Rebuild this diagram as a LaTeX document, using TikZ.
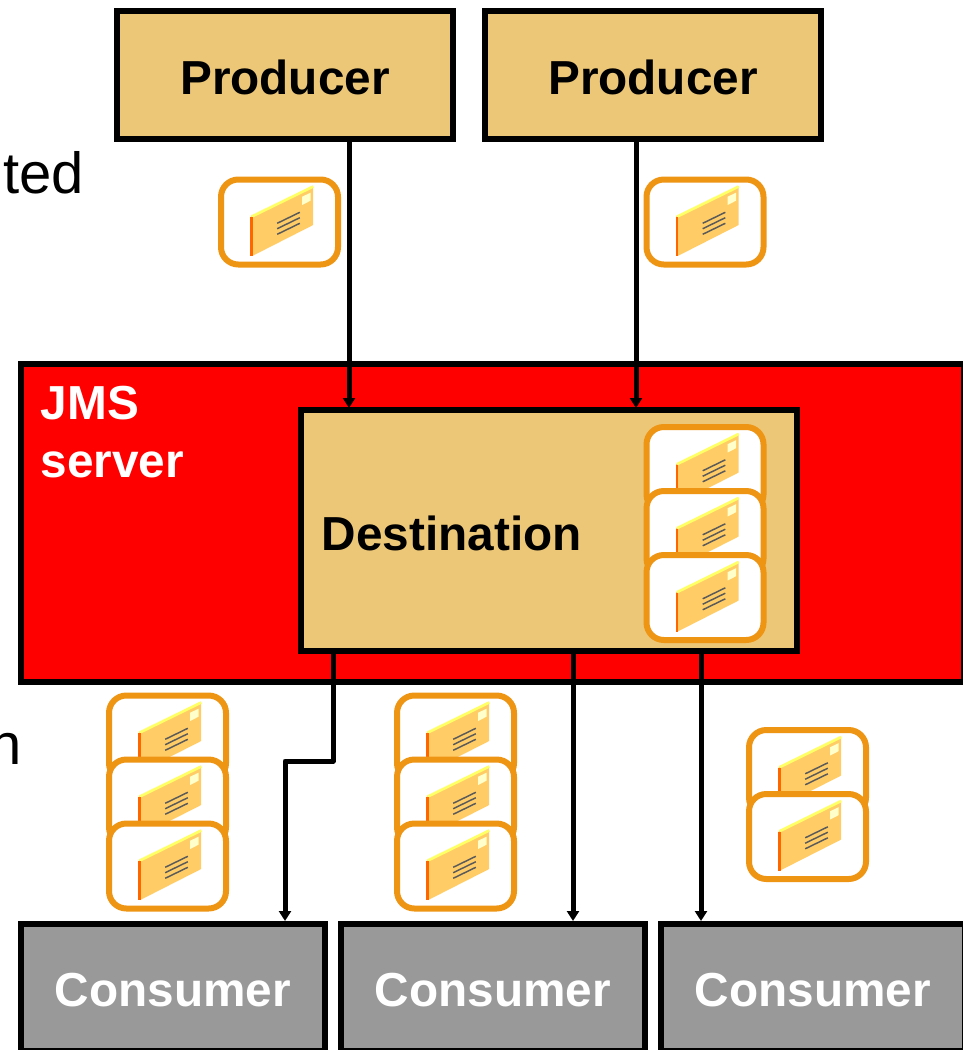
\documentclass[tikz,border=0pt]{standalone}
\usepackage{fontspec}
\usepackage{xcolor}
\setmainfont{Liberation Sans}
\usetikzlibrary{arrows.meta}
\definecolor{boxgold}{HTML}{ECC778}
\definecolor{cardorange}{HTML}{EE9514}
\definecolor{consumergrey}{HTML}{999999}
\tikzset{
    heavybox/.style={draw=black,line width=4.5pt,inner sep=0pt},
    producerbox/.style={heavybox,fill=boxgold,minimum width=252pt,minimum height=96pt,text height=29pt,font=\fontsize{35.8}{38}\selectfont\bfseries},
    consumerbox/.style={heavybox,fill=consumergrey,text=white,minimum width=228pt,minimum height=95.25pt,text height=29pt,font=\fontsize{35.8}{38}\selectfont\bfseries},
    flow/.style={line width=3.75pt,-{Triangle[length=7.5pt,width=9pt]}},
    card/.style={draw=cardorange,fill=white,line width=4.5pt,rounded corners=13pt,minimum width=87.75pt,minimum height=63.75pt,inner sep=0pt},
    boldlabel/.style={inner sep=0pt,font=\fontsize{35.8}{43.5}\selectfont\bfseries},
    plainlabel/.style={inner sep=0pt,font=\fontsize{43.5}{46}\selectfont},
    letter/.pic={
        \fill [color={rgb, 255:red, 255; green, 204; blue, 102 }] (-29,-5.3) -- (33.7,-36) -- (33.7,3) -- (-27.3,34) -- cycle;
        \draw [color={rgb, 255:red, 255; green, 255; blue, 102 },line width=2pt] (-28,-5.3) -- (33.7,-35.5);
        \draw [color={rgb, 255:red, 255; green, 102; blue, 0 },line width=2pt] (-28,-5) -- (-28,34);
        \fill [color={rgb, 255:red, 255; green, 255; blue, 204 }] (22.7,-25.3) -- (31,-29.3) -- (31,-21.3) -- (22.7,-17) -- cycle;
        \foreach \ly in {0,5.4,11}
            \draw [color={rgb, 255:red, 90; green, 90; blue, 90 },line width=1.1pt] (-2.3,1.3+\ly) -- (20.3,-9.7+\ly);
    }
}

\begin{document}
\begin{tikzpicture}[x=0.75pt,y=0.75pt,yscale=-1,xscale=1]
    \useasboundingbox (0,0) rectangle (963,1050);

    % Text cut off by the left edge
    \node (tedText) [plainlabel,anchor=base east] at (84,193.5) {ted};
    \node (nText) [plainlabel,anchor=base east] at (22,764) {n};

    % Server and destination
    \node (server) [heavybox,fill=red,anchor=north west,minimum width=707.6pt,minimum height=238.5pt] at (18,361) {};
    \node (serverLabel) [boldlabel,text=white,anchor=north west,align=left] at (40.5,386) {JMS\\server};
    \node (destination) [heavybox,fill=boxgold,anchor=north west,minimum width=372pt,minimum height=180.75pt] at (298,407) {};
    \node (destinationLabel) [boldlabel,anchor=west] at (321.5,533) {Destination};

    % Producers and consumers
    \node (producerA) [producerbox] at (285,75) {Producer};
    \node (producerB) [producerbox] at (653,75) {Producer};
    \node (consumerA) [consumerbox] at (173,987.5) {Consumer};
    \node (consumerB) [consumerbox] at (493,987.5) {Consumer};
    \node (consumerC) [consumerbox] at (813,987.5) {Consumer};

    % Connector ends
    \coordinate (inA) at (349,408);
    \coordinate (inB) at (636,408);
    \coordinate (outA) at (333,651);
    \coordinate (bendA) at (333,761);
    \coordinate (bendB) at (285,761);
    \coordinate (outB) at (573,651);
    \coordinate (outC) at (701,651);

    \draw [flow] (producerA.south -| inA) -- (inA);
    \draw [flow] (producerB.south -| inB) -- (inB);
    \draw [flow,line join=round] (outA) -- (bendA) -- (bendB) -- (bendB |- consumerA.north);
    \draw [flow] (outB) -- (outB |- consumerB.north);
    \draw [flow] (outC) -- (outC |- consumerC.north);

    % Messages
    \foreach \cx/\cy [count=\ci] in {279.5/222,705/222,705/469.5,705/533.5,705/597.5,
            167.5/738,167.5/802,167.5/866,455.5/738,455.5/802,455.5/866,807.5/772.5,807.5/836.5}{
        \node (card\ci) [card] at (\cx,\cy) {};
        \pic [yscale=-1] at (\cx,\cy) {letter};
    }
\end{tikzpicture}
\end{document}
